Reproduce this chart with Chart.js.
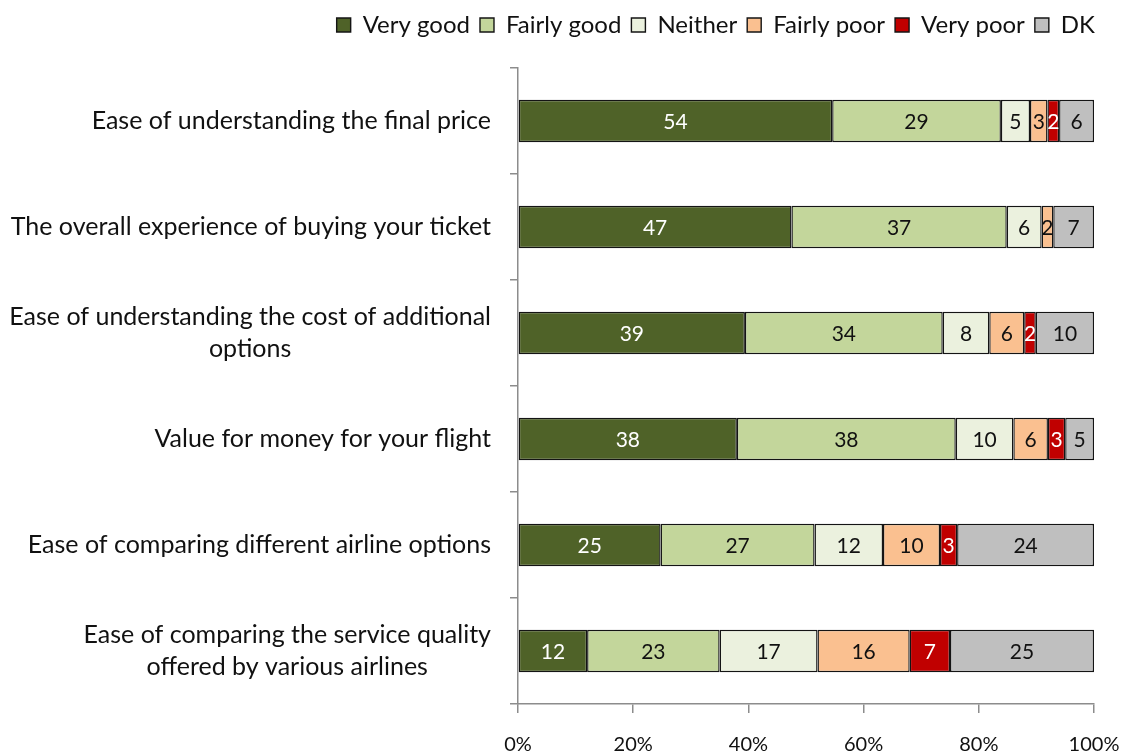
<!DOCTYPE html>
<html>
<head>
<meta charset="utf-8">
<title>Ticket buying ratings</title>
<script src="https://cdn.jsdelivr.net/npm/chart.js@4.4.1/dist/chart.umd.min.js"></script>
<style>
  html, body { margin: 0; padding: 0; background: #fff; }
  #wrap { width: 1129px; height: 754px; }
</style>
</head>
<body>
<div id="wrap"><canvas id="chart" width="1129" height="754"></canvas></div>
<script>
var categories = [
  'Ease of understanding the final price',
  'The overall experience of buying your ticket',
  ['Ease of understanding the cost of additional', 'options'],
  'Value for money for your flight',
  'Ease of comparing different airline options',
  ['Ease of comparing the service quality', 'offered by various airlines']
];
var seriesNames = ['Very good', 'Fairly good', 'Neither', 'Fairly poor', 'Very poor', 'DK'];
var veryGood   = [54, 47, 39, 38, 25, 12];
var fairlyGood = [29, 37, 34, 38, 27, 23];
var neither    = [5, 6, 8, 10, 12, 17];
var fairlyPoor = [3, 2, 6, 6, 10, 16];
var veryPoor   = [2, 0, 2, 3, 3, 7];
var dontKnow   = [6, 7, 10, 5, 24, 25];
var xTicks = [0, 20, 40, 60, 80, 100];

var series = [veryGood, fairlyGood, neither, fairlyPoor, veryPoor, dontKnow];
var colors = ['#4f6228', '#c3d69b', '#ebf1de', '#fac090', '#c00000', '#bfbfbf'];
var labelColors = ['#fff', '#111', '#111', '#111', '#fff', '#111'];
var FONT = 'Lato, "DejaVu Sans", sans-serif';

// each row is shown as shares of its own total
var totals = categories.map(function(c, i) {
  return series.reduce(function(s, arr) { return s + arr[i]; }, 0);
});

var datasets = series.map(function(arr, k) {
  return {
    label: seriesNames[k],
    data: arr.map(function(v, i) { return v / totals[i] * 100; }),
    raw: arr,
    backgroundColor: colors[k],
    borderColor: '#141414',
    borderWidth: 1.4,
    borderSkipped: false,
    barPercentage: 0.4,
    categoryPercentage: 1
  };
});

// value labels in the middle of each segment
var valueLabels = {
  id: 'valueLabels',
  afterDatasetsDraw: function(chart) {
    var ctx = chart.ctx;
    ctx.save();
    ctx.font = '21px ' + FONT;
    ctx.textAlign = 'center';
    ctx.textBaseline = 'middle';
    chart.data.datasets.forEach(function(ds, k) {
      chart.getDatasetMeta(k).data.forEach(function(bar, i) {
        var v = ds.raw[i];
        if (!v) return;
        var p = bar.getCenterPoint();
        ctx.fillStyle = labelColors[k];
        ctx.fillText(String(v), p.x, p.y + 1);
      });
    });
    ctx.restore();
  }
};

// category names left of the axis; wrapped names are centred line by line
var categoryLabels = {
  id: 'categoryLabels',
  afterDraw: function(chart) {
    var ctx = chart.ctx;
    var y = chart.scales.y;
    var right = chart.chartArea.left - 27;
    var lineH = 32;
    ctx.save();
    ctx.font = '25px ' + FONT;
    ctx.fillStyle = '#111';
    ctx.textAlign = 'center';
    ctx.textBaseline = 'middle';
    categories.forEach(function(lab, i) {
      var lines = Array.isArray(lab) ? lab : [lab];
      var maxW = Math.max.apply(null, lines.map(function(l) { return ctx.measureText(l).width; }));
      var cy = y.getPixelForValue(i) - (lines.length - 1) * lineH / 2;
      lines.forEach(function(l, j) {
        ctx.fillText(l, right - maxW / 2, cy + j * lineH);
      });
    });
    ctx.restore();
  }
};

// fixed height for the legend band so the plot starts at the same place
var legendBand = {
  id: 'legendBand',
  beforeInit: function(chart) {
    var fit = chart.legend.fit;
    chart.legend.fit = function() {
      fit.bind(chart.legend)();
      this.height = 65;
    };
  }
};

new Chart(document.getElementById('chart'), {
  type: 'bar',
  data: { labels: categories, datasets: datasets },
  plugins: [valueLabels, categoryLabels, legendBand],
  options: {
    indexAxis: 'y',
    responsive: false,
    animation: false,
    layout: { padding: { left: 0, right: 24, top: 3, bottom: 0 } },
    plugins: {
      legend: {
        position: 'top',
        align: 'end',
        labels: {
          boxWidth: 14,
          boxHeight: 14,
          padding: 10,
          color: '#111',
          font: { family: FONT, size: 24 }
        }
      },
      tooltip: { enabled: false }
    },
    scales: {
      x: {
        stacked: true,
        min: 0,
        max: 100,
        afterFit: function(scale) {
          scale.height = 50;
          scale.paddingLeft = 0;
          scale.paddingRight = 35;
        },
        afterBuildTicks: function(scale) {
          scale.ticks = xTicks.map(function(v) { return { value: v }; });
        },
        border: { color: '#8c8c8c', width: 1.5 },
        grid: { drawOnChartArea: false, tickLength: 9, color: '#8c8c8c', lineWidth: 1.5 },
        ticks: {
          padding: 20,
          color: '#111',
          font: { family: FONT, size: 20 },
          callback: function(v) { return v + '%'; }
        }
      },
      y: {
        stacked: true,
        afterFit: function(scale) { scale.width = 518; },
        border: { color: '#8c8c8c', width: 1.5 },
        grid: { offset: true, drawOnChartArea: false, tickLength: 8, color: '#8c8c8c', lineWidth: 1.5 },
        ticks: { display: false }
      }
    }
  }
});
</script>
</body>
</html>
